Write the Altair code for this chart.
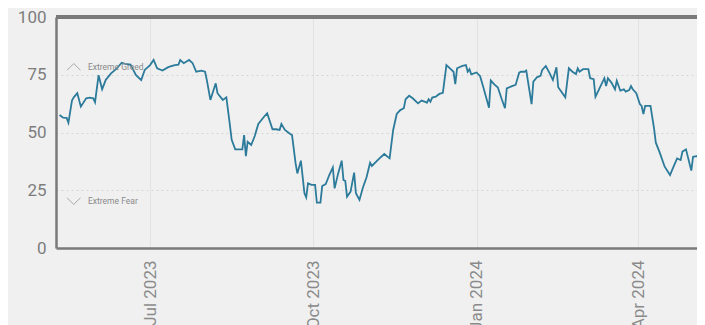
import altair as alt
import pandas as pd

dates = [
    "2023-05-11", "2023-05-13", "2023-05-15", "2023-05-16", "2023-05-18", "2023-05-19", "2023-05-21", "2023-05-23",
    "2023-05-26", "2023-05-28", "2023-05-30", "2023-05-31", "2023-06-02", "2023-06-04", "2023-06-06", "2023-06-09",
    "2023-06-12", "2023-06-15", "2023-06-17", "2023-06-20", "2023-06-23", "2023-06-26", "2023-06-28", "2023-07-01",
    "2023-07-03", "2023-07-05", "2023-07-08", "2023-07-11", "2023-07-12", "2023-07-15", "2023-07-17", "2023-07-18",
    "2023-07-20", "2023-07-23", "2023-07-25", "2023-07-27", "2023-07-30", "2023-08-01", "2023-08-02", "2023-08-04",
    "2023-08-07", "2023-08-08", "2023-08-11", "2023-08-13", "2023-08-15", "2023-08-16", "2023-08-18", "2023-08-20",
    "2023-08-22", "2023-08-23", "2023-08-24", "2023-08-25", "2023-08-27", "2023-08-29", "2023-08-31", "2023-09-03",
    "2023-09-05", "2023-09-08", "2023-09-10", "2023-09-12", "2023-09-13", "2023-09-15", "2023-09-18", "2023-09-19",
    "2023-09-21", "2023-09-22", "2023-09-24", "2023-09-26", "2023-09-27", "2023-09-28", "2023-09-30", "2023-10-02",
    "2023-10-03", "2023-10-05", "2023-10-06", "2023-10-08", "2023-10-10", "2023-10-12", "2023-10-13", "2023-10-15",
    "2023-10-17", "2023-10-18", "2023-10-19", "2023-10-20", "2023-10-22", "2023-10-24", "2023-10-25", "2023-10-27",
    "2023-10-29", "2023-10-31", "2023-11-02", "2023-11-03", "2023-11-06", "2023-11-08", "2023-11-10", "2023-11-13",
    "2023-11-15", "2023-11-17", "2023-11-19", "2023-11-21", "2023-11-22", "2023-11-24", "2023-11-26", "2023-11-29",
    "2023-12-01", "2023-12-03", "2023-12-04", "2023-12-05", "2023-12-06", "2023-12-07", "2023-12-09", "2023-12-11",
    "2023-12-13", "2023-12-15", "2023-12-17", "2023-12-19", "2023-12-20", "2023-12-21", "2023-12-24", "2023-12-26",
    "2023-12-27", "2023-12-28", "2023-12-29", "2024-01-01", "2024-01-03", "2024-01-05", "2024-01-08", "2024-01-09",
    "2024-01-11", "2024-01-13", "2024-01-15", "2024-01-17", "2024-01-18", "2024-01-21", "2024-01-23", "2024-01-25",
    "2024-01-26", "2024-01-28", "2024-01-29", "2024-02-01", "2024-02-02", "2024-02-04", "2024-02-06", "2024-02-07",
    "2024-02-09", "2024-02-11", "2024-02-13", "2024-02-15", "2024-02-16", "2024-02-20", "2024-02-22", "2024-02-24",
    "2024-02-26", "2024-02-27", "2024-02-28", "2024-03-01", "2024-03-04", "2024-03-05", "2024-03-07", "2024-03-08",
    "2024-03-10", "2024-03-13", "2024-03-14", "2024-03-15", "2024-03-17", "2024-03-19", "2024-03-20", "2024-03-22",
    "2024-03-24", "2024-03-25", "2024-03-27", "2024-03-28", "2024-03-29", "2024-03-31", "2024-04-02", "2024-04-03",
    "2024-04-04", "2024-04-05", "2024-04-08", "2024-04-10", "2024-04-11", "2024-04-13", "2024-04-16", "2024-04-19",
    "2024-04-21", "2024-04-23", "2024-04-25", "2024-04-26", "2024-04-28", "2024-05-01", "2024-05-02", "2024-05-04",
    "2024-05-06", "2024-05-07", "2024-05-09",
]
values = [
    57.6, 56.4, 56.3, 54.2, 63.8, 65.2, 67.0, 61.2,
    64.8, 65.1, 64.8, 63.1, 74.8, 68.7, 72.7, 75.6,
    77.5, 80.2, 79.7, 79.4, 74.9, 72.7, 77.1, 79.2,
    81.4, 77.8, 76.8, 78.2, 78.5, 79.2, 79.4, 81.4,
    80.0, 81.4, 80.0, 76.3, 76.8, 76.3, 72.7, 64.1,
    71.3, 67.0, 64.1, 65.2, 53.2, 46.8, 42.7, 42.7,
    42.7, 48.9, 39.8, 46.0, 44.6, 48.5, 53.7, 56.6,
    58.3, 51.4, 51.4, 51.1, 53.7, 51.1, 49.4, 48.9,
    36.7, 32.3, 37.8, 23.7, 21.9, 28.0, 27.3, 27.3,
    19.6, 19.6, 26.8, 27.7, 31.6, 34.9, 25.8, 32.3,
    37.8, 29.4, 29.1, 22.2, 24.4, 32.6, 23.7, 20.8,
    26.3, 30.6, 36.9, 35.5, 37.8, 39.3, 40.7, 38.8,
    51.1, 58.0, 59.7, 60.5, 64.4, 65.9, 64.8, 62.6,
    63.8, 63.3, 62.9, 64.4, 63.3, 65.1, 65.5, 66.7,
    67.2, 79.2, 77.8, 76.3, 70.9, 77.8, 78.8, 79.2,
    76.3, 77.4, 75.2, 76.0, 74.4, 69.1, 60.7, 72.5,
    70.8, 69.5, 64.8, 60.5, 69.1, 70.1, 70.6, 75.9,
    76.3, 76.3, 76.8, 62.3, 72.0, 73.9, 74.5, 77.1,
    78.8, 75.9, 72.7, 78.2, 69.6, 65.2, 77.8, 76.3,
    75.3, 77.8, 76.3, 77.4, 77.4, 73.5, 73.1, 65.5,
    68.7, 73.5, 70.1, 73.5, 71.6, 68.7, 72.4, 68.1,
    68.7, 67.7, 68.4, 70.1, 68.7, 67.0, 62.3, 61.5,
    58.0, 61.5, 61.5, 51.8, 45.6, 41.7, 35.2, 31.6,
    35.2, 38.8, 38.1, 41.7, 42.7, 33.5, 39.5, 39.8,
    39.3, 36.7, 44.0,
]

y_ticks = [0, 25, 50, 75, 100]
x_tick_dates = [(2023, 7), (2023, 10), (2024, 1), (2024, 4)]
x_domain = [(2023, 5, 9, 0), (2024, 5, 4, 5)]

zone_labels = ["Extreme Greed", "Extreme Fear"]
zone_levels = [78.4, 20.3]
zone_marker_date = "2023-05-19"
zone_text_date = "2023-05-27"
zone_shapes = ["M-1,0.5L0,-0.5L1,0.5", "M-1,-0.5L0,0.5L1,-0.5"]

df = pd.DataFrame({"date": dates, "value": values})
ann = pd.DataFrame({
    "label": zone_labels,
    "level": zone_levels,
    "mdate": [zone_marker_date] * 2,
    "tdate": [zone_text_date] * 2,
    "shape": zone_shapes,
})

W, H = 641, 231
FONT = "Roboto"
LINE = "#2c7b9b"
BORDER = "#7a7a7a"

x_scale = alt.Scale(
    type="utc",
    domain=[alt.DateTime(year=y, month=m, date=d, hours=h, utc=True) for (y, m, d, h) in x_domain],
)
y_scale = alt.Scale(domain=[0, 100])

x_axis = alt.Axis(
    values=[alt.DateTime(year=y, month=m, date=1, utc=True) for (y, m) in x_tick_dates],
    format="%b %Y",
    labelAngle=270,
    labelFontSize=17,
    labelColor="#8a8a8a",
    labelFont=FONT,
    labelPadding=12,
    ticks=False,
    domain=True,
    domainColor=BORDER,
    domainWidth=2.5,
    grid=True,
    gridColor="#e2e2e2",
    gridWidth=1,
    title=None,
)
y_axis = alt.Axis(
    values=y_ticks,
    labelFontSize=17,
    labelColor="#7d7d7d",
    labelFont=FONT,
    labelPadding=10,
    ticks=False,
    domain=True,
    domainColor=BORDER,
    domainWidth=2.5,
    grid=True,
    gridColor="#d6d6d6",
    gridDash=[2, 3],
    gridWidth=1,
    title=None,
)

line = alt.Chart(df).mark_line(color=LINE, strokeWidth=1.8, clip=True).encode(
    x=alt.X("date:T", scale=x_scale, axis=x_axis),
    y=alt.Y("value:Q", scale=y_scale, axis=y_axis),
)

markers = alt.Chart(ann).mark_point(
    filled=False, color="#8a8a8a", strokeWidth=1, size=180
).encode(
    x=alt.X("mdate:T", scale=x_scale),
    y=alt.Y("level:Q", scale=y_scale),
    shape=alt.Shape("shape:N", scale=None, legend=None),
)

texts = alt.Chart(ann).mark_text(
    align="left", baseline="middle", fontSize=8.5, font=FONT, color="#8a8a8a"
).encode(
    x=alt.X("tdate:T", scale=x_scale),
    y=alt.Y("level:Q", scale=y_scale),
    text="label:N",
)

top_border = alt.Chart(df).mark_rule(color=BORDER, strokeWidth=2.5).encode(
    x=alt.value(0), x2=alt.value(W), y=alt.value(0)
)

chart = (
    alt.layer(line, markers, texts, top_border)
    .properties(
        width=W,
        height=H,
        background="#f0f0f0",
        autosize=alt.AutoSizeParams(type="none"),
        padding={"left": 48, "top": 9, "right": 0, "bottom": 77},
    )
    .configure_view(stroke="transparent", strokeWidth=0)
)

chart.save("out.html", embed_options={"renderer": "svg", "actions": False})
